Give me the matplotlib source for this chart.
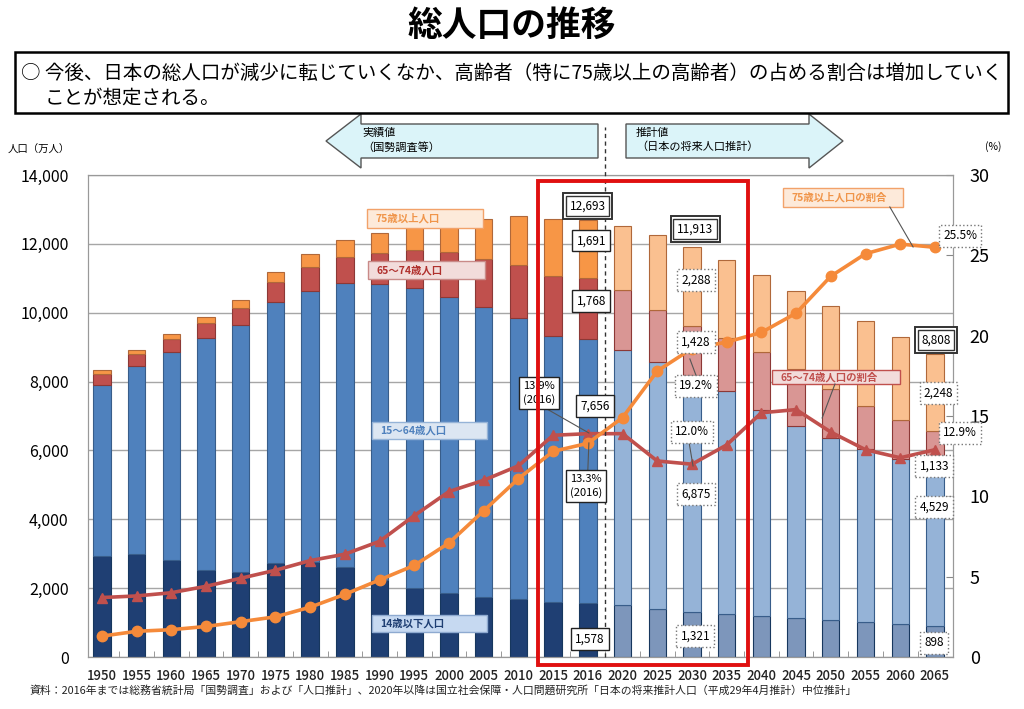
import matplotlib
matplotlib.use('Agg')
import matplotlib.pyplot as plt
import matplotlib.transforms as mtransforms
from matplotlib.patches import Rectangle, Polygon
import numpy as np

plt.rcParams['font.family'] = ['Noto Sans CJK JP', 'DejaVu Sans']

# 年次
years = ['1950', '1955', '1960', '1965', '1970', '1975', '1980', '1985', '1990',
         '1995', '2000', '2005', '2010', '2015', '2016', '2020', '2025', '2030',
         '2035', '2040', '2045', '2050', '2055', '2060', '2065']
n_actual = 15  # 2016まで実績値

# 人口（万人）
age_0_14 = [2943, 2980, 2807, 2517, 2482, 2722, 2751, 2603, 2249, 2001, 1847, 1752,
            1680, 1595, 1578, 1507, 1407, 1321, 1246, 1194, 1138, 1077, 1012, 951, 898]
age_15_64 = [4966, 5473, 6047, 6744, 7157, 7581, 7883, 8251, 8590, 8716, 8622, 8409,
             8168, 7728, 7656, 7406, 7170, 6875, 6494, 5978, 5584, 5275, 5028, 4793, 4529]
age_65_74 = [309, 336, 373, 435, 509, 603, 699, 776, 892, 1109, 1301, 1407,
             1539, 1755, 1768, 1747, 1497, 1428, 1522, 1681, 1643, 1424, 1259, 1154, 1133]
age_75 = [106, 139, 163, 189, 224, 284, 366, 471, 597, 717, 900, 1160,
          1419, 1632, 1691, 1872, 2180, 2288, 2260, 2239, 2277, 2417, 2446, 2387, 2248]
total = [8320, 8928, 9342, 9828, 10372, 11194, 11706, 12105, 12361, 12557, 12693, 12777,
         12806, 12709, 12693, 12532, 12254, 11913, 11522, 11092, 10642, 10192, 9744, 9284, 8808]

# 割合（%）
ratio_65_74 = [3.7, 3.8, 4.0, 4.4, 4.9, 5.4, 6.0, 6.4, 7.2, 8.8, 10.3, 11.0, 11.9,
               13.8, 13.9, 13.9, 12.2, 12.0, 13.2, 15.2, 15.4, 14.0, 12.9, 12.4, 12.9]
ratio_75 = [1.3, 1.6, 1.7, 1.9, 2.2, 2.5, 3.1, 3.9, 4.8, 5.7, 7.1, 9.1, 11.1,
            12.8, 13.3, 14.9, 17.8, 19.2, 19.6, 20.2, 21.4, 23.7, 25.1, 25.7, 25.5]

W, H = 1024, 709
def fx(px):
    return px / W
def fy(py):
    return 1 - py / H

fig = plt.figure(figsize=(10.24, 7.09), dpi=100)
ax = fig.add_axes([fx(88), fy(657), (953 - 88) / W, (657 - 175) / H])
ax2 = ax.twinx()

x = np.arange(len(years))
act = x < n_actual

cols_act = ['#1f3f73', '#4f81bd', '#c0504d', '#f79646']
cols_prj = ['#7d96bb', '#95b3d7', '#d99694', '#fac090']
edges = ['#17375e', '#385d8a', '#8c3836', '#b0683a']
segs = [age_0_14, age_15_64, age_65_74, age_75]

bottom = np.zeros(len(x))
for i, seg in enumerate(segs):
    seg = np.array(seg, dtype=float)
    colors = [cols_act[i] if a else cols_prj[i] for a in act]
    ax.bar(x, seg, 0.5, bottom=bottom, color=colors, edgecolor=edges[i], linewidth=0.8, zorder=2)
    bottom += seg

ax.set_xlim(-0.4, 24.52)
ax.set_ylim(0, 14000)
ax.set_yticks(range(0, 14001, 2000))
ax.set_yticklabels([f'{v:,}' for v in range(0, 14001, 2000)], fontsize=11.5)
ax.grid(axis='y', color='#a6a6a6', lw=1)
ax.set_axisbelow(True)
ax.set_xticks(x)
ax.set_xticklabels(years, fontsize=9.5, color='#222222', fontweight='medium')
ax.set_xticks(x[:-1] + 0.5, minor=True)
ax.tick_params(axis='x', which='major', length=0, pad=9)
ax.tick_params(axis='x', which='minor', direction='in', length=4, color='#888888')
ax.tick_params(axis='y', length=0, pad=14)
for s in ax.spines.values():
    s.set_color('#999999')

ax2.plot(x, ratio_65_74, color='#c0504d', lw=2.6, marker='^', ms=7, zorder=4)
ax2.plot(x, ratio_75, color='#f58a3a', lw=2.6, marker='o', ms=7.5, zorder=5)
ax2.set_ylim(0, 30)
ax2.set_yticks(range(0, 31, 5))
ax2.tick_params(axis='y', direction='in', length=5, labelsize=13, pad=12, color='#888888')
for s in ax2.spines.values():
    s.set_color('#999999')

T = ax.transData

def series_label(x0, x1, y0, y1, s, fc, ec, tc):
    ax2.add_patch(Rectangle((x0, y0), x1 - x0, y1 - y0, transform=T, fc=fc, ec=ec,
                            lw=1, zorder=6, clip_on=False))
    ax2.text(x0 + 0.25, (y0 + y1) / 2, s, transform=T, ha='left', va='center', color=tc,
             fontsize=7.5, fontweight='bold', zorder=7)

series_label(7.64, 10.98, 12462, 13015, '75歳以上人口', '#fdeada', '#f2a26a', '#f0954a')
series_label(7.67, 11.04, 10980, 11505, '65～74歳人口', '#f2dcdb', '#c98a88', '#b0302d')
series_label(7.78, 11.10, 6333, 6827, '15～64歳人口', '#dce6f2', '#95b3d7', '#4f81bd')
series_label(7.78, 11.10, 726, 1220, '14歳以下人口', '#c6d9f1', '#8eaad0', '#1f3f73')
series_label(19.63, 23.08, 13073, 13624, '75歳以上人口の割合', '#fdeada', '#f2a26a', '#f0954a')
series_label(19.30, 23.00, 7930, 8337, '65～74歳人口の割合', '#f2dcdb', '#c0504d', '#c0504d')

def leader(xs, ys):
    ax2.plot(xs, ys, transform=T, color='#555555', lw=0.8, zorder=6)

leader([22.7, 23.37], [13072, 11910])
leader([21.12, 20.75], [7930, 6943])
leader([12.77, 14.03], [7233, 6507])
leader([14.0, 14.03], [5432, 6217])
leader([16.94, 17.13], [8657, 8143])
leader([16.89, 17.03], [6391, 5549])

def box(xp, yp, s, kind='solid', fs=8.5):
    if kind == 'double':
        ax2.text(xp, yp, s, transform=T, ha='center', va='center', fontsize=fs, zorder=9,
                 bbox=dict(boxstyle='square,pad=0.55', fc='white', ec='#333333', lw=1.4),
                 clip_on=False)
        ax2.text(xp, yp, s, transform=T, ha='center', va='center', fontsize=fs, zorder=10,
                 bbox=dict(boxstyle='square,pad=0.3', fc='white', ec='#333333', lw=1.0),
                 clip_on=False)
    elif kind == 'solid':
        ax2.text(xp, yp, s, transform=T, ha='center', va='center', fontsize=fs, zorder=9,
                 linespacing=1.3,
                 bbox=dict(boxstyle='square,pad=0.35', fc='white', ec='#222222', lw=1.0),
                 clip_on=False)
    else:
        ax2.text(xp, yp, s, transform=T, ha='center', va='center', fontsize=fs, zorder=9,
                 bbox=dict(boxstyle='square,pad=0.35', fc='white', ec='#777777', lw=1.0,
                           ls=':'), clip_on=False)

i16 = years.index('2016')
i30 = years.index('2030')
i65 = years.index('2065')

box(14.0, 13100, f'{total[i16]:,}', 'double')
box(14.1, 12093, f'{age_75[i16]:,}')
box(14.1, 10342, f'{age_65_74[i16]:,}')
box(14.2, 7292, f'{age_15_64[i16]:,}')
box(14.06, 523, f'{age_0_14[i16]:,}')
box(13.94, 4967, f'{ratio_75[i16]:.1f}%\n(2016)', fs=8)
box(12.6, 7669, f'{ratio_65_74[i16]:.1f}%\n(2016)', fs=8)

box(17.09, 12433, f'{total[i30]:,}', 'double')
box(17.12, 10952, f'{age_75[i30]:,}', 'dotted')
box(17.12, 9151, f'{age_65_74[i30]:,}', 'dotted')
box(17.12, 7873, f'{ratio_75[i30]:.1f}%', 'dotted')
box(17.0, 6536, f'{ratio_65_74[i30]:.1f}%', 'dotted')
box(17.12, 4735, f'{age_15_64[i30]:,}', 'dotted')
box(17.1, 610, f'{age_0_14[i30]:,}', 'dotted')

box(24.03, 9209, f'{total[i65]:,}', 'double')
box(24.73, 12230, f'{ratio_75[i65]:.1f}%', 'dotted')
box(24.1, 7669, f'{age_75[i65]:,}', 'dotted')
box(24.73, 6507, f'{ratio_65_74[i65]:.1f}%', 'dotted')
box(23.98, 5549, f'{age_65_74[i65]:,}', 'dotted')
box(23.98, 4358, f'{age_15_64[i65]:,}', 'dotted')
box(23.98, 407, f'{age_0_14[i65]:,}', 'dotted')

# 実績値／推計値の境界
bt = mtransforms.blended_transform_factory(ax.transData, ax.transAxes)
ax2.plot([14.5, 14.5], [0, 1.1], transform=bt, color='#333333', lw=1, ls=(0, (3, 2.5)),
         clip_on=False, zorder=8)

# 赤枠
ax2.add_patch(Rectangle((12.55, -232), 6.05, 14060, transform=T, fill=False,
                        ec='#e01010', lw=2.8, clip_on=False, zorder=12))

# 矢印
ft = fig.transFigure
left_arrow = [(326, 141), (361, 114), (361, 124), (598, 124), (598, 158), (361, 158), (361, 168)]
right_arrow = [(626, 124), (809, 124), (809, 114), (843, 141), (809, 168), (809, 158), (626, 158)]
for pts in (left_arrow, right_arrow):
    fig.patches.append(Polygon([(fx(a), fy(b)) for a, b in pts], closed=True, transform=ft,
                               fc='#dbf4f9', ec='#555555', lw=1))
fig.text(fx(362), fy(133), '実績値', fontsize=8, va='center')
fig.text(fx(362), fy(147), '（国勢調査等）', fontsize=8, va='center')
fig.text(fx(636), fy(133), '推計値', fontsize=8, va='center')
fig.text(fx(636), fy(147), '（日本の将来人口推計）', fontsize=8, va='center')

fig.text(fx(8), fy(150), '人口（万人）', fontsize=7.5, va='center')
fig.text(fx(985), fy(147), '(%)', fontsize=7.5, va='center')

# タイトル・説明
fig.text(0.5, fy(25), '総人口の推移', fontsize=25, fontweight='bold', ha='center', va='center')
fig.patches.append(Rectangle((fx(15), fy(113)), (1008 - 15) / W, 61 / H, transform=ft,
                             fill=False, ec='black', lw=1.8))
fig.text(fx(21), fy(73), '○ 今後、日本の総人口が減少に転じていくなか、高齢者（特に75歳以上の高齢者）の占める割合は増加していく',
         fontsize=14, va='center')
fig.text(fx(45), fy(98), 'ことが想定される。', fontsize=14, va='center')

fig.text(fx(30), fy(690), '資料：2016年までは総務省統計局「国勢調査」および「人口推計」、2020年以降は国立社会保障・人口問題研究所「日本の将来推計人口（平成29年4月推計）中位推計」',
         fontsize=7.8, va='center', color='#222222')

fig.savefig('out.png', dpi=100)
